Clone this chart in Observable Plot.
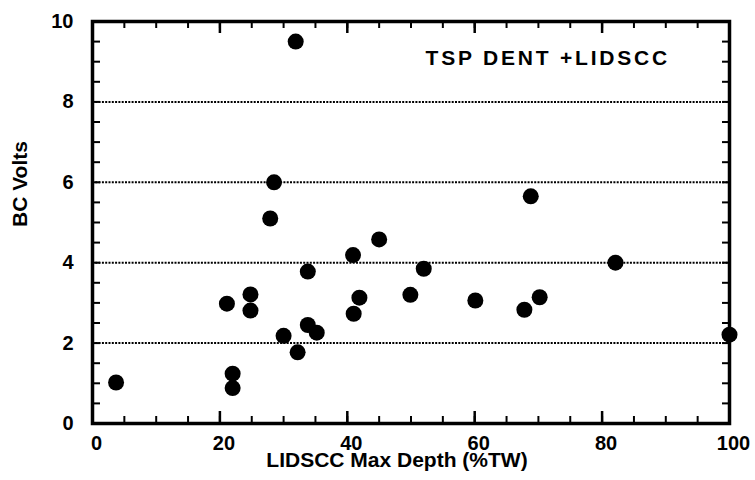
<!DOCTYPE html>
<html><head><meta charset="utf-8">
<script src="https://cdn.jsdelivr.net/npm/d3@7"></script>
<script src="https://cdn.jsdelivr.net/npm/@observablehq/plot@0.6"></script>
<style>body{margin:0;background:#fff}</style>
</head><body><div id="chart"></div>
<script>
// LIDSCC max depth (%TW) and bobbin-coil volts
const depth = [3.7, 21.1, 22.0, 22.0, 24.8, 24.8, 27.9, 28.5, 30.0, 31.9, 32.2, 33.8, 33.8, 35.2, 40.9, 41.0, 41.9, 45.0, 49.9, 52.0, 60.1, 67.8, 68.8, 70.2, 82.1, 100.0];
const volts = [1.02, 2.98, 1.24, 0.88, 3.21, 2.81, 5.10, 6.00, 2.18, 9.50, 1.77, 2.45, 3.78, 2.26, 4.19, 2.73, 3.13, 4.58, 3.20, 3.85, 3.06, 2.83, 5.65, 3.14, 4.00, 2.21];
const xTickLabels = [0, 20, 40, 60, 80, 100];
const xMinorTicks = [0, 5, 10, 15, 20, 25, 30, 35, 40, 45, 50, 55, 60, 65, 70, 75, 80, 85, 90, 95, 100];
const yTickLabels = [0, 2, 4, 6, 8, 10];
const yMinorTicks = [0, 0.5, 1, 1.5, 2, 2.5, 3, 3.5, 4, 4.5, 5, 5.5, 6, 6.5, 7, 7.5, 8, 8.5, 9, 9.5, 10];
const gridLevels = [2, 4, 6, 8];
const title = "TSP DENT +LIDSCC";
const xTitle = "LIDSCC Max Depth (%TW)";
const yTitle = "BC Volts";

const W = 755, H = 480, mL = 92, mR = 26, mT = 21, mB = 57;
const fw = W - mL - mR, fh = H - mT - mB;
const data = depth.map((x, i) => ({x, y: volts[i]}));

const chart = Plot.plot({
  width: W, height: H,
  marginLeft: mL, marginRight: mR, marginTop: mT, marginBottom: mB,
  style: {fontFamily: '"Liberation Sans", Arial, sans-serif', fontSize: "20px", fontWeight: "bold", color: "black", background: "white", overflow: "visible"},
  x: {domain: [0, 100]},
  y: {domain: [0, 10]},
  marks: [
    Plot.ruleY(gridLevels, {y: d => d, stroke: "black", strokeWidth: 2, strokeDasharray: "2 1.3"}),
    Plot.tickX(xMinorTicks, {x: d => d, insetTop: fh - 7, stroke: "black", strokeWidth: 2}),
    Plot.tickX(xTickLabels, {x: d => d, insetTop: fh - 12, stroke: "black", strokeWidth: 2.5}),
    Plot.tickX(xMinorTicks, {x: d => d, insetBottom: fh - 7, stroke: "black", strokeWidth: 2}),
    Plot.tickX(xTickLabels, {x: d => d, insetBottom: fh - 12, stroke: "black", strokeWidth: 2.5}),
    Plot.tickY(yMinorTicks, {y: d => d, insetRight: fw - 8, stroke: "black", strokeWidth: 2}),
    Plot.tickY(yMinorTicks, {y: d => d, insetLeft: fw - 7, stroke: "black", strokeWidth: 2}),
    Plot.frame({stroke: "black", strokeWidth: 3.5}),
    Plot.axisX({ticks: xTickLabels, tickSize: 0, tickPadding: 12.5, dx: 4, label: null, fontSize: 20, fontWeight: "bold"}),
    Plot.axisY({ticks: yTickLabels, tickSize: 0, tickPadding: 19, label: null, fontSize: 20, fontWeight: "bold"}),
    Plot.dot(data, {x: "x", y: "y", r: 8, fill: "black"}),
    Plot.text([title], {text: d => d, frameAnchor: "top-left", textAnchor: "start", lineAnchor: "top", dx: 333, dy: 29, fontSize: 21, fontWeight: "bold"}),
    Plot.text([xTitle], {text: d => d, frameAnchor: "bottom", dx: -14, dy: 43, fontSize: 21, fontWeight: "bold"}),
    Plot.text([yTitle], {text: d => d, frameAnchor: "left", rotate: -90, dx: -72, dy: 4.5, fontSize: 21, fontWeight: "bold"})
  ]
});
// push stroke presentation attributes down onto each shape so every renderer honours them
const attrs = ["stroke", "stroke-width", "stroke-dasharray"];
d3.select(chart).selectAll("line, rect, path").each(function() {
  attrs.forEach(a => {
    if (this.hasAttribute(a)) { this.style.setProperty(a, this.getAttribute(a)); return; }
    let p = this.parentNode;
    while (p && p !== chart && !(p.hasAttribute && p.hasAttribute(a))) p = p.parentNode;
    if (p && p.hasAttribute && p.hasAttribute(a)) {
      this.setAttribute(a, p.getAttribute(a));
      this.style.setProperty(a, p.getAttribute(a));
    }
  });
});
d3.select(chart).selectAll("text").filter(function() { return this.textContent === title; }).style("letter-spacing", "2.8px");
document.getElementById("chart").appendChild(chart);
</script>
</body></html>
